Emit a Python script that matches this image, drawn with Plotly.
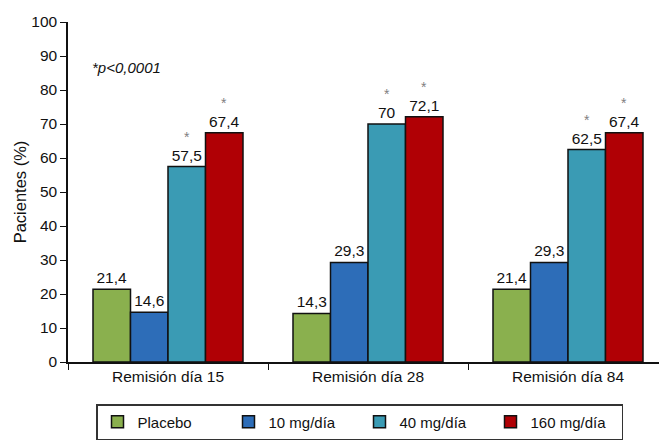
import plotly.graph_objects as go

categories = ["Remisión día 15", "Remisión día 28", "Remisión día 84"]
series_names = ["Placebo", "10 mg/día", "40 mg/día", "160 mg/día"]
placebo = [21.4, 14.3, 21.4]
dose_10 = [14.6, 29.3, 29.3]
dose_40 = [57.5, 70, 62.5]
dose_160 = [67.4, 72.1, 67.4]
colors = ["#8AB04E", "#2D6DB8", "#3A9BB4", "#B00005"]
significant = [False, False, True, True]
y_ticks = list(range(0, 101, 10))

series_values = [placebo, dose_10, dose_40, dose_160]
FONT = "Liberation Sans, Arial"


def fmt(v):
    return (f"{v:g}").replace(".", ",")


fig = go.Figure()
for name, vals, col in zip(series_names, series_values, colors):
    fig.add_trace(go.Bar(
        x=categories, y=vals, name=name,
        marker=dict(color=col, line=dict(color="#111111", width=1.5)),
        text=[fmt(v) for v in vals], textposition="outside",
        textfont=dict(size=15.5, color="#111111", family=FONT),
        cliponaxis=False,
    ))

# significance markers above the high-dose bars
n = len(series_names)
bar_w = 0.75 / n
annotations = []
for si, (vals, sig) in enumerate(zip(series_values, significant)):
    if not sig:
        continue
    for ci, v in enumerate(vals):
        offset = -0.375 + bar_w * (si + 0.5)
        annotations.append(dict(
            x=ci + offset, y=v, xref="x", yref="y", text="*",
            showarrow=False, yanchor="bottom", yshift=20,
            font=dict(size=14, color="#808080", family=FONT),
        ))

annotations.append(dict(
    x=(90 - 68) / 591, y=1 - (68 - 22) / 341, xref="paper", yref="paper",
    text="<i>*p<0,0001</i>", showarrow=False, xanchor="left", yanchor="middle",
    font=dict(size=15, color="#111111", family=FONT),
))

fig.update_layout(
    width=659, height=440,
    margin=dict(l=68, r=0, t=22, b=77),
    paper_bgcolor="white", plot_bgcolor="white",
    barmode="group", bargap=0.25, bargroupgap=0,
    font=dict(family=FONT, size=15.5, color="#111111"),
    showlegend=True,
    legend=dict(
        orientation="h", x=(96 - 68) / 591, xanchor="left",
        y=-(405 - 363) / 341, yanchor="top",
        bordercolor="#333333", borderwidth=1.5,
        entrywidth=86, entrywidthmode="pixels",
        font=dict(size=15, family=FONT, color="#111111"),
    ),
    annotations=annotations,
    xaxis=dict(
        range=[-0.5, -0.5 + 591 / 200],
        showline=True, linecolor="#111111", linewidth=1.5,
        ticks="outside", tickson="boundaries", ticklen=6, tickcolor="#111111",
        tickfont=dict(size=15.5),
    ),
    yaxis=dict(
        range=[0, 100], tickvals=y_ticks,
        showline=True, linecolor="#111111", linewidth=1.5,
        ticks="outside", ticklen=6, tickcolor="#111111",
        showgrid=False, zeroline=False,
        tickfont=dict(size=15.5),
        title=dict(text="Pacientes (%)", font=dict(size=16.5), standoff=1),
    ),
)

fig.write_html("out.html")
